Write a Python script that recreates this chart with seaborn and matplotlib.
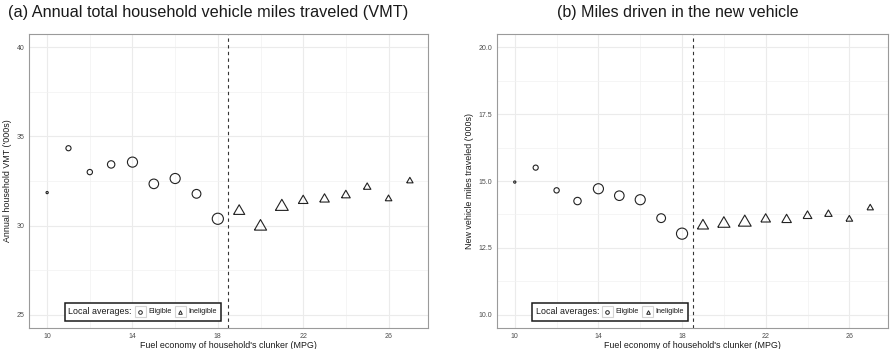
import matplotlib
matplotlib.use("Agg")
import matplotlib.pyplot as plt
import seaborn as sns
import pandas as pd
from matplotlib.lines import Line2D
from matplotlib.patches import Rectangle
from matplotlib.offsetbox import AnchoredOffsetbox, HPacker, TextArea, DrawingArea

# Bins of clunker fuel economy (MPG)
mpg = [10, 11, 12, 13, 14, 15, 16, 17, 18, 19, 20, 21, 22, 23, 24, 25, 26, 27]
status = ["Eligible"] * 9 + ["Ineligible"] * 9

# Local averages, '000s of miles
household_vmt = [31.85, 34.34, 33.00, 33.43, 33.56, 32.34, 32.64, 31.78, 30.38,
                 30.86, 30.00, 31.12, 31.44, 31.52, 31.74, 32.19, 31.53, 32.53]
new_vehicle_miles = [14.96, 15.50, 14.65, 14.25, 14.71, 14.45, 14.30, 13.61, 13.03,
                     13.36, 13.44, 13.49, 13.60, 13.58, 13.72, 13.78, 13.59, 14.01]

# Relative number of households in each bin (drives marker size)
n_households = [1, 5.3, 5.7, 11, 20.5, 18.4, 20.5, 15.5, 25,
                25, 30, 33, 18.4, 18.4, 15.5, 11, 8.9, 8.2]

df = pd.DataFrame({"mpg": mpg, "status": status, "vmt": household_vmt,
                   "new_miles": new_vehicle_miles, "n": n_households})

sns.set_style("white")
plt.rcParams["font.family"] = ["Liberation Sans", "DejaVu Sans"]

# open triangle like ggplot shape 2 (closed path, full marker width)
tri = [(-1, -0.75), (1, -0.75), (0, 0.98), (-1, -0.75)]
markers = {"Eligible": "o", "Ineligible": tri}

fig = plt.figure(figsize=(8.91, 3.49), dpi=100)
ax_a = fig.add_axes([29 / 891, 21 / 349, 399 / 891, 294 / 349])
ax_b = fig.add_axes([497 / 891, 21 / 349, 391 / 891, 294 / 349])


def local_avg_legend(ax):
    def key(marker):
        da = DrawingArea(8, 8, 0, 0)
        da.add_artist(Rectangle((0, 0), 8, 8, fc="white", ec="#d4d4d4", lw=0.8))
        da.add_artist(Line2D([4], [4], marker=marker, ms=2.6, mfc="none",
                             mec="#222222", mew=0.7))
        return da

    small = dict(size=5.2, color="#1a1a1a")
    items = [TextArea("Local averages:", textprops=dict(size=6.4, color="#1a1a1a")),
             key("o"), TextArea("Eligible", textprops=small),
             key("^"), TextArea("Ineligible", textprops=small)]
    box = HPacker(children=items, align="center", pad=0, sep=2)
    anch = AnchoredOffsetbox(loc="lower left", child=box, pad=0.25, borderpad=0,
                             frameon=True, bbox_to_anchor=(0.09, 0.025),
                             bbox_transform=ax.transAxes)
    anch.patch.set_boxstyle("square", pad=0)
    anch.patch.set_edgecolor("#1a1a1a")
    anch.patch.set_linewidth(1.1)
    ax.add_artist(anch)


panels = [
    (ax_a, "vmt", (24.25, 40.75), [25, 30, 35, 40], [27.5, 32.5, 37.5],
     ["25", "30", "35", "40"], "Annual household VMT ('000s)"),
    (ax_b, "new_miles", (9.5, 20.5), [10, 12.5, 15, 17.5, 20], [11.25, 13.75, 16.25, 18.75],
     ["10.0", "12.5", "15.0", "17.5", "20.0"], "New vehicle miles traveled ('000s)"),
]

for ax, col, ylim, yt, ymin, ylab, ylabel in panels:
    sns.scatterplot(data=df, x="mpg", y=col, size="n", style="status",
                    markers=markers, sizes=(0, 85), size_norm=(0, 33),
                    facecolor="none", edgecolor="#222222", linewidth=0.8,
                    legend=False, ax=ax, zorder=3)
    ax.axvline(18.5, color="#333333", ls=(0, (3, 3)), lw=0.8, zorder=2)
    ax.set_xlim(9.15, 27.85)
    ax.set_ylim(*ylim)
    ax.set_xticks([10, 14, 18, 22, 26])
    ax.set_xticks([12, 16, 20, 24], minor=True)
    ax.set_yticks(yt)
    ax.set_yticklabels(ylab)
    ax.set_yticks(ymin, minor=True)
    ax.grid(True, which="major", color="#ebebeb", lw=0.8, zorder=0)
    ax.grid(True, which="minor", color="#f2f2f2", lw=0.5, zorder=0)
    ax.set_axisbelow(True)
    ax.tick_params(which="major", length=2, width=0.5, color="#333333",
                   labelsize=5, labelcolor="#4d4d4d", pad=1.5)
    ax.tick_params(which="minor", length=0)
    for s in ax.spines.values():
        s.set_color("#9a9a9a")
        s.set_linewidth(0.8)
    ax.set_xlabel("Fuel economy of household's clunker (MPG)", fontsize=6.4,
                  color="#1a1a1a", labelpad=0.5)
    ax.set_ylabel(ylabel, fontsize=6.4, color="#1a1a1a", labelpad=3)
    local_avg_legend(ax)

fig.text(8 / 891, 1 - 13 / 349, "(a) Annual total household vehicle miles traveled (VMT)",
         fontsize=11.7, ha="left", va="center", color="#1a1a1a")
fig.text(678 / 891, 1 - 13 / 349, "(b) Miles driven in the new vehicle",
         fontsize=11.5, ha="center", va="center", color="#1a1a1a")

fig.savefig("out.png", dpi=100)
